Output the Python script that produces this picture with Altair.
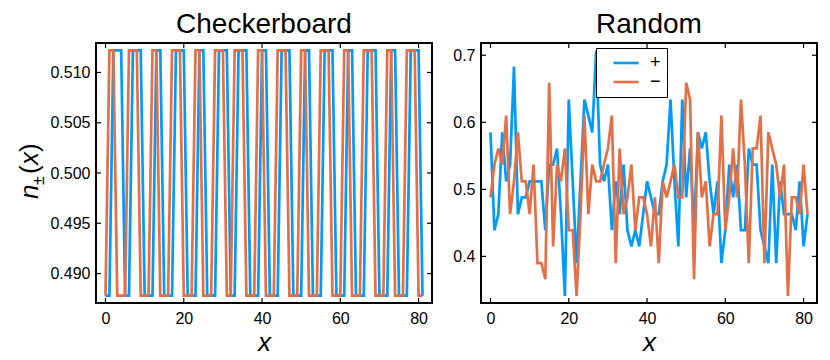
import altair as alt
import pandas as pd

FONT = "Liberation Sans"
BLUE = "#009AFA"
ORANGE = "#E36F47"

x_vals = list(range(82))
H, L = 0.5122, 0.4878

checker_plus = [
    L, L, H, H, H, L, L, H, H, H,
    L, L, L, H, H, L, L, L, H, H,
    H, L, L, L, H, H, L, L, L, H,
    H, H, L, L, H, H, H, L, L, L,
    H, H, L, L, L, H, H, H, L, L,
    L, H, H, L, L, L, H, H, H, L,
    L, L, H, H, L, L, L, H, H, H,
    L, L, L, H, H, L, L, L, H, H,
    H, L,
]
checker_minus = [
    L, H, H, L, L, L, H, H, H, L,
    L, L, H, H, L, L, L, H, H, H,
    L, L, L, H, H, L, L, L, H, H,
    H, L, L, H, H, H, L, L, L, H,
    H, L, L, L, H, H, H, L, L, L,
    H, H, L, L, L, H, H, H, L, L,
    L, H, H, L, L, L, H, H, H, L,
    L, L, H, H, L, L, L, H, H, H,
    L, L,
]
random_plus = [
    0.585, 0.439, 0.463, 0.585, 0.512, 0.537, 0.683, 0.463, 0.488, 0.488,
    0.512, 0.512, 0.512, 0.512, 0.439, 0.537, 0.537, 0.561, 0.463, 0.341,
    0.634, 0.512, 0.390, 0.512, 0.634, 0.610, 0.585, 0.707, 0.537, 0.512,
    0.537, 0.439, 0.512, 0.463, 0.537, 0.439, 0.415, 0.439, 0.415, 0.463,
    0.512, 0.488, 0.463, 0.463, 0.512, 0.537, 0.634, 0.512, 0.415, 0.634,
    0.488, 0.561, 0.439, 0.585, 0.561, 0.585, 0.512, 0.463, 0.512, 0.390,
    0.439, 0.537, 0.488, 0.537, 0.439, 0.439, 0.561, 0.537, 0.537, 0.439,
    0.415, 0.390, 0.537, 0.390, 0.512, 0.463, 0.463, 0.463, 0.439, 0.512,
    0.415, 0.463,
]
random_minus = [
    0.488, 0.537, 0.561, 0.537, 0.610, 0.463, 0.512, 0.585, 0.512, 0.512,
    0.463, 0.537, 0.390, 0.390, 0.366, 0.659, 0.415, 0.537, 0.512, 0.561,
    0.439, 0.439, 0.341, 0.463, 0.610, 0.463, 0.537, 0.512, 0.512, 0.537,
    0.561, 0.610, 0.390, 0.561, 0.463, 0.488, 0.537, 0.439, 0.488, 0.488,
    0.463, 0.415, 0.488, 0.390, 0.512, 0.488, 0.512, 0.537, 0.488, 0.488,
    0.659, 0.634, 0.366, 0.585, 0.488, 0.512, 0.415, 0.463, 0.463, 0.610,
    0.439, 0.488, 0.561, 0.488, 0.634, 0.537, 0.390, 0.561, 0.561, 0.610,
    0.390, 0.585, 0.561, 0.537, 0.488, 0.537, 0.341, 0.488, 0.488, 0.463,
    0.537, 0.463,
]

series_names = ["+", "−"]
x_ticks = [0, 20, 40, 60, 80]
checker_yticks = [0.490, 0.495, 0.500, 0.505, 0.510]
random_yticks = [0.4, 0.5, 0.6, 0.7]
titles = ["Checkerboard", "Random"]

W, HGT = 336, 260
XDOM = [-2.43, 83.43]
TK = 5


def panel(plus, minus, ydom, yticks, yfmt, title, show_legend, ylabel):
    df = pd.DataFrame({
        "x": x_vals + x_vals,
        "n": plus + minus,
        "s": ["+"] * len(plus) + ["−"] * len(minus),
    })
    xs = alt.Scale(domain=XDOM, nice=False, zero=False)
    ys = alt.Scale(domain=ydom, nice=False, zero=False)
    xaxis = alt.Axis(
        values=x_ticks, format="d", ticks=False, domain=False, grid=False,
        labelFont=FONT, labelFontSize=16, labelColor="black", labelPadding=7,
        title="x", titleFont=FONT, titleFontSize=26, titleFontStyle="italic",
        titleFontWeight="normal", titleColor="black", titlePadding=3)
    yaxis = alt.Axis(
        values=yticks, format=yfmt, ticks=False, domain=False, grid=False,
        labelFont=FONT, labelFontSize=16, labelColor="black", labelPadding=6,
        title=None)
    if show_legend:
        leg = alt.Legend(
            title=None, orient="none", legendX=115, legendY=5,
            strokeColor="black", fillColor="white", padding=6,
            symbolType="M-2,0L2,0", symbolStrokeWidth=2.6, symbolSize=156,
            symbolOffset=15, labelFont=FONT, labelFontSize=18, labelColor="black",
            labelOffset=15, rowPadding=1, cornerRadius=0,
            labelExpr="datum.label + '   '",
        )
    else:
        leg = None
    color = alt.Color("s:N", scale=alt.Scale(domain=series_names, range=[BLUE, ORANGE]), legend=leg)

    lines = alt.Chart(df).mark_line(strokeWidth=2.7, clip=True).encode(
        x=alt.X("x:Q", scale=xs, axis=xaxis),
        y=alt.Y("n:Q", scale=ys, axis=yaxis),
        color=color,
    )
    ydf = pd.DataFrame({"v": yticks})
    xdf = pd.DataFrame({"v": x_ticks})
    yl = alt.Chart(ydf).mark_rule(color="black", strokeWidth=1.2).encode(
        y=alt.Y("v:Q", scale=ys, axis=yaxis), x=alt.value(0), x2=alt.value(TK))
    yr = alt.Chart(ydf).mark_rule(color="black", strokeWidth=1.2).encode(
        y=alt.Y("v:Q", scale=ys, axis=yaxis), x=alt.value(W - TK), x2=alt.value(W))
    xb = alt.Chart(xdf).mark_rule(color="black", strokeWidth=1.2).encode(
        x=alt.X("v:Q", scale=xs, axis=xaxis), y=alt.value(HGT - TK), y2=alt.value(HGT))
    xt = alt.Chart(xdf).mark_rule(color="black", strokeWidth=1.2).encode(
        x=alt.X("v:Q", scale=xs, axis=xaxis), y=alt.value(0), y2=alt.value(TK))
    layers = [lines, yl, yr, xb, xt]
    if ylabel:
        base_y = 128 + 28
        pieces = [
            ("n", 0, 0, 26, "italic"),
            ("±", 14, 6, 16, "normal"),
            ("(", 25, 0, 26, "normal"),
            ("x", 34, 0, 26, "italic"),
            (")", 47, 0, 26, "normal"),
        ]
        for txt, dx, dy, fs, st in pieces:
            layers.append(
                alt.Chart(pd.DataFrame({"t": [txt]})).mark_text(
                    angle=270, align="left", baseline="alphabetic", font=FONT,
                    fontSize=fs, fontStyle=st, color="black", dx=dx, dy=dy,
                ).encode(text="t:N", x=alt.value(-58), y=alt.value(base_y))
            )
    return alt.layer(*layers).properties(
        width=W, height=HGT,
        title=alt.TitleParams(title, font=FONT, fontSize=28, fontWeight="normal",
                              color="black", offset=3, anchor="middle"),
    )


left = panel(checker_plus, checker_minus, [0.48707, 0.51293], checker_yticks, ".3f", titles[0], False, True)
right = panel(random_plus, random_minus, [0.3305, 0.7183], random_yticks, ".1f", titles[1], True, False)

chart = alt.hconcat(left, right, spacing=17).resolve_scale(color="independent").configure_view(
    stroke="black", strokeWidth=2
).properties(padding={"left": 8, "top": 2, "right": 0, "bottom": 0}, background="white")

chart.save("out.html", embed_options={"renderer": "svg", "actions": False})
